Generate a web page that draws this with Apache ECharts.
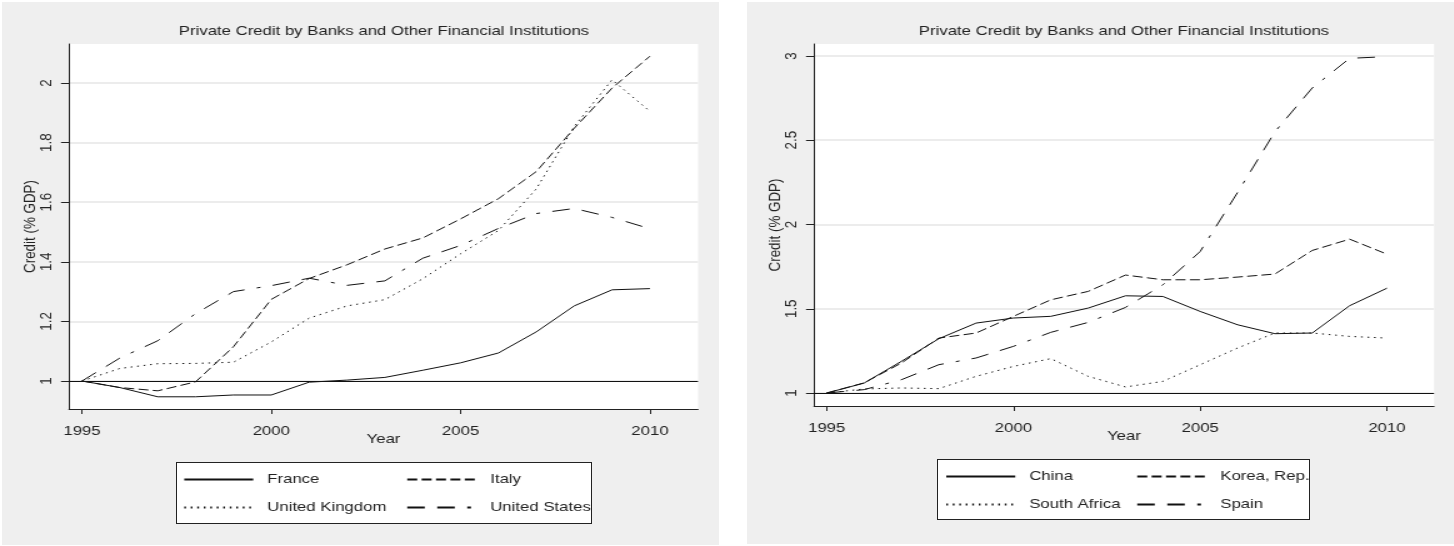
<!DOCTYPE html>
<html><head><meta charset="utf-8">
<script src="https://cdn.jsdelivr.net/npm/echarts@6/dist/echarts.min.js"></script>
<style>
html,body{margin:0;padding:0;background:#fff;overflow:hidden}
#wrap{width:1454px;height:546px;overflow:hidden;position:relative;background:#fff}
.panel{position:absolute;background:#efefef}
.lbox{position:absolute;background:#fff;border:1px solid #222;box-sizing:border-box}
#c{position:absolute;left:0;top:0;width:1163.2px;height:546px;transform:scaleX(1.25);transform-origin:0 0}
</style></head><body>
<div id="wrap">
<div class="panel" style="left:2px;top:2px;width:717px;height:543px"></div>
<div class="panel" style="left:747px;top:2px;width:707px;height:542px"></div>
<div class="lbox" style="left:176px;top:462px;width:416px;height:62px"></div>
<div class="lbox" style="left:937px;top:459px;width:373px;height:61px"></div>
<div id="c"></div>
</div>
<script>
// ---- data ----
const years = [1995,1996,1997,1998,1999,2000,2001,2002,2003,2004,2005,2006,2007,2008,2009,2010];
const france = [1.0,0.978,0.947,0.947,0.953,0.953,0.996,1.003,1.012,1.036,1.061,1.094,1.165,1.252,1.306,1.31];
const italy  = [1.0,0.978,0.967,0.997,1.115,1.274,1.344,1.39,1.443,1.48,1.544,1.612,1.703,1.848,1.983,2.09];
const uk     = [1.0,1.042,1.058,1.059,1.063,1.131,1.211,1.252,1.273,1.343,1.427,1.505,1.645,1.854,2.011,1.905];
const us     = [1.0,1.077,1.135,1.226,1.3,1.32,1.345,1.321,1.336,1.412,1.455,1.512,1.562,1.579,1.549,1.511];
const china  = [1.0,1.059,1.188,1.322,1.415,1.445,1.455,1.504,1.577,1.573,1.484,1.405,1.352,1.356,1.518,1.622];
const korea  = [1.0,1.06,1.178,1.326,1.356,1.455,1.553,1.603,1.70,1.672,1.672,1.688,1.706,1.846,1.913,1.824];
const southAfrica = [1.0,1.024,1.03,1.026,1.099,1.158,1.204,1.099,1.036,1.069,1.168,1.267,1.356,1.356,1.336,1.326];
const spain  = [1.0,1.02,1.079,1.168,1.208,1.277,1.36,1.419,1.508,1.642,1.84,2.19,2.55,2.81,2.986,2.996];
const xTicks = [1995,2000,2005,2010];
const yTicksLeft = [1,1.2,1.4,1.6,1.8,2];
const yTicksRight = [1,1.5,2,2.5,3];
const titleText = 'Private Credit by Banks and Other Financial Institutions';

// ---- layout ----
const S = 1.25;
const px = v => v / S;
const FONT = '"Liberation Sans", Arial, sans-serif';
const FS = 13.4;
const TXT = '#222';

const dashStyle = {
  solid: 'solid',
  dash: [8, 3.5],
  dot: [1.4, 3.8],
  longdot: [14, 10, 14, 10, 3, 10]
};

function xAxisCfg(gi, min, max) {
  return {
    type: 'value', gridIndex: gi, min: min, max: max,
    axisLine: {show: true, onZero: false, lineStyle: {color: '#222', width: 1}},
    axisTick: {show: true, length: 5, customValues: xTicks, lineStyle: {color: '#222', width: 1}},
    axisLabel: {customValues: xTicks, margin: 16, fontSize: FS, color: TXT, fontFamily: FONT,
                formatter: v => String(Math.round(v))},
    splitLine: {show: false},
    name: 'Year', nameLocation: 'middle', nameGap: 23.5, nameMoveOverlap: false,
    nameTextStyle: {fontSize: FS, color: TXT, fontFamily: FONT}
  };
}
function yAxisCfg(gi, min, max, ticks) {
  return {
    type: 'value', gridIndex: gi, min: min, max: max,
    axisLine: {show: true, onZero: false, lineStyle: {color: '#222', width: 1}},
    axisTick: {show: true, length: px(8), customValues: ticks, lineStyle: {color: '#222', width: 1}},
    axisLabel: {customValues: ticks, rotate: 90, margin: 11, fontSize: FS, color: TXT, fontFamily: FONT,
                formatter: v => String(Math.round(v * 10) / 10)},
    splitLine: {show: true, lineStyle: {color: '#e6e6e6', width: 1.5}},
    name: 'Credit (% GDP)', nameLocation: 'middle', nameGap: 24.5, nameMoveOverlap: false,
    nameTextStyle: {fontSize: FS, color: TXT, fontFamily: FONT}
  };
}
function mk(name, arr, gi, style, withLine) {
  const s = {
    name: name, type: 'line', xAxisIndex: gi, yAxisIndex: gi,
    data: years.map((y, i) => [y, arr[i]]),
    symbol: 'none', showSymbol: false, smooth: false,
    lineStyle: {color: '#111', width: 1, type: dashStyle[style]},
    itemStyle: {color: '#111'},
    emphasis: {disabled: true}, z: 3
  };
  if (withLine) {
    s.markLine = {
      symbol: 'none', silent: true, animation: false,
      label: {show: false},
      lineStyle: {color: '#111', type: 'solid', width: 1},
      data: [{yAxis: 1}]
    };
  }
  return s;
}
function legendCfg(data, left, top) {
  return {
    data: data, orient: 'vertical', left: left, top: top, padding: 0,
    itemWidth: px(69), itemHeight: 14, itemGap: 15, selectedMode: false,
    itemStyle: {opacity: 0},
    textStyle: {fontSize: FS, color: TXT, fontFamily: FONT, padding: [0, 0, 0, px(14) - 5]}
  };
}

const chart = echarts.init(document.getElementById('c'), null, {renderer: 'canvas'});
chart.setOption({
  animation: false,
  backgroundColor: 'transparent',
  title: [
    {text: titleText, left: px(384), top: 25, textAlign: 'center', padding: 0,
     textStyle: {fontSize: FS, fontWeight: 'normal', color: TXT, fontFamily: FONT}},
    {text: titleText, left: px(1124), top: 25, textAlign: 'center', padding: 0,
     textStyle: {fontSize: FS, fontWeight: 'normal', color: TXT, fontFamily: FONT}}
  ],
  grid: [
    {left: px(69), top: 44, width: px(629), height: 365, show: true, backgroundColor: '#fff', borderWidth: 0, containLabel: false},
    {left: px(814), top: 44, width: px(620), height: 362, show: true, backgroundColor: '#fff', borderWidth: 0, containLabel: false}
  ],
  xAxis: [xAxisCfg(0, 1994.657, 2011.27), xAxisCfg(1, 1994.66, 2011.26)],
  yAxis: [yAxisCfg(0, 0.906, 2.131, yTicksLeft), yAxisCfg(1, 0.923, 3.071, yTicksRight)],
  legend: [
    legendCfg(['France', 'United Kingdom'], px(183), 473),
    legendCfg(['Italy', 'United States'], px(406), 473),
    legendCfg(['China', 'South Africa'], px(945), 470),
    legendCfg(['Korea, Rep.', 'Spain'], px(1136), 470)
  ],
  series: [
    mk('France', france, 0, 'solid', true),
    mk('Italy', italy, 0, 'dash'),
    mk('United Kingdom', uk, 0, 'dot'),
    mk('United States', us, 0, 'longdot'),
    mk('China', china, 1, 'solid', true),
    mk('Korea, Rep.', korea, 1, 'dash'),
    mk('South Africa', southAfrica, 1, 'dot'),
    mk('Spain', spain, 1, 'longdot')
  ]
});
</script>
</body></html>
